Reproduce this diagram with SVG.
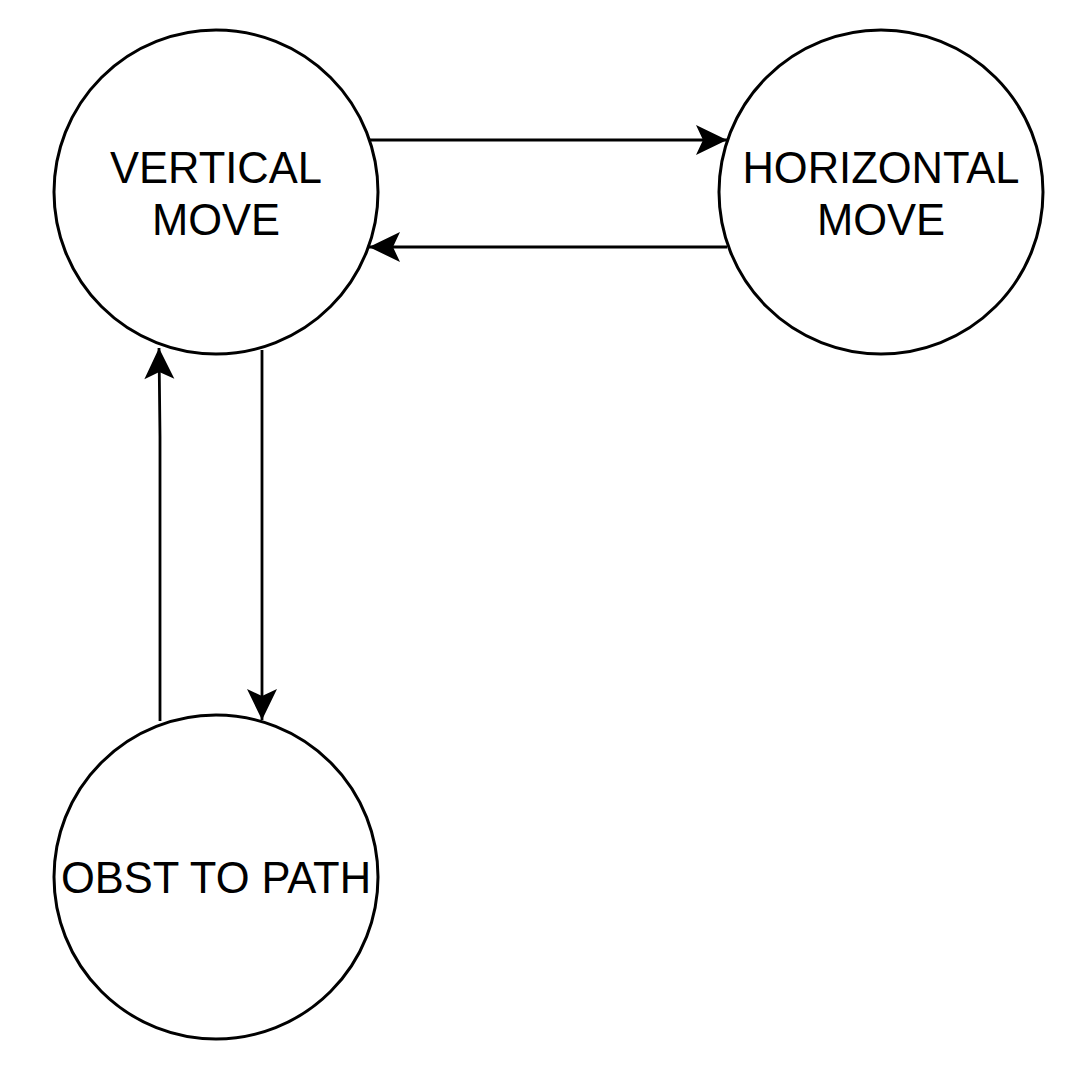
<svg xmlns="http://www.w3.org/2000/svg" width="1092" height="1078" viewBox="0 0 1092 1078">
<style>
.node{fill:#fff;stroke:#000;stroke-width:3}
.lbl{font-family:"Liberation Sans",Arial,sans-serif;font-size:43.5px;fill:#000;text-anchor:middle}
.edge{fill:none;stroke:#000;stroke-width:2.8}
</style>
<defs>
<marker id="arr" markerUnits="userSpaceOnUse" markerWidth="40" markerHeight="40" viewBox="-34 -20 40 40" refX="0" refY="0" orient="auto">
<path d="M0,0 L-31,-15 L-24,0 L-31,15 Z" fill="#000"/>
</marker>
</defs>
<rect width="1092" height="1078" fill="#fff"/>
<g id="connectors">
<path class="edge" d="M370,140 L727,140" marker-end="url(#arr)"/>
<path class="edge" d="M727,247 L369,247" marker-end="url(#arr)"/>
<path class="edge" d="M262,350 L262,720" marker-end="url(#arr)"/>
<path class="edge" d="M160,721 L160,437 L159,348" marker-end="url(#arr)"/>
</g>
<g id="vertical-move">
<circle class="node" cx="216" cy="192" r="162"/>
<text class="lbl" x="216" y="183">VERTICAL</text>
<text class="lbl" x="216" y="235">MOVE</text>
</g>
<g id="horizontal-move">
<circle class="node" cx="881" cy="192" r="162"/>
<text class="lbl" x="881" y="183">HORIZONTAL</text>
<text class="lbl" x="881" y="235">MOVE</text>
</g>
<g id="obst-to-path">
<circle class="node" cx="216" cy="877" r="162"/>
<text class="lbl" x="216" y="893">OBST TO PATH</text>
</g>
</svg>
